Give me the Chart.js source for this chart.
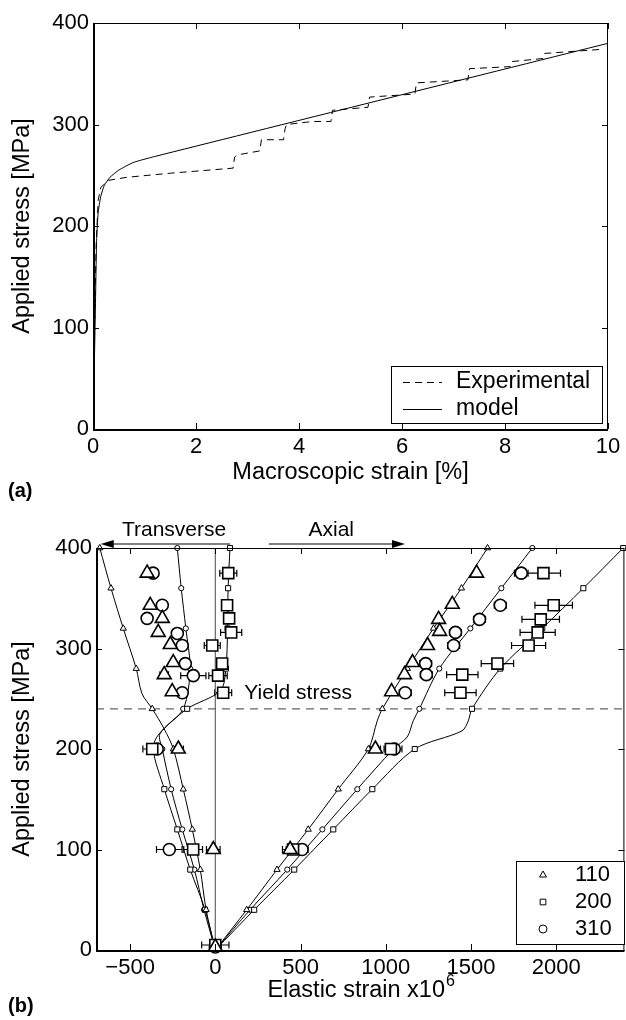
<!DOCTYPE html>
<html>
<head>
<meta charset="utf-8">
<script src="https://cdn.jsdelivr.net/npm/chart.js@4.4.0/dist/chart.umd.min.js"></script>
<style>
html,body{margin:0;background:#fff;overflow:hidden}
body{width:626px;height:1020px;position:relative;font-family:'Liberation Sans',Arial,sans-serif}
#ca{position:absolute;left:0;top:0}
#cb{position:absolute;left:0;top:500px}
.lbl{position:absolute;font-weight:bold;font-size:20px;color:#000}
</style>
</head>
<body>
<canvas id="ca" width="626" height="500"></canvas>
<canvas id="cb" width="634" height="520"></canvas>
<div class="lbl" style="left:8px;top:479px">(a)</div>
<div class="lbl" style="left:8px;top:994px">(b)</div>
<script>
const FONT = "'Liberation Sans', Arial, sans-serif"
const FS = 22      // tick labels
const FT = 23.5    // axis titles
const FN = 21      // notes

// ---- (a) macroscopic stress-strain ----
const expStrain = [0,0.03,0.06,0.1,0.15,0.3,0.66,1.5,2.72,2.75,2.8,3.24,3.27,3.7,3.73,3.76,4.27,4.62,4.65,5.34,5.37,6.25,6.28,7.28,7.31,8.1,8.13,8.74,8.77,9.86]
const expStress = [0,100,180,225,238,245,248,252,257,268,270,274,285,285,296,300,303,303,314,317,327,330,341,344,355,357,362,365,370,374]
const modelStrain = [0,0.04,0.07,0.1,0.15,0.22,0.33,0.5,0.78,1.2,10]
const modelStress = [0,100,185,213,229,240,248,255,262.5,268.5,380]
const xTicksA = [0,2,4,6,8,10]
const yTicks = [0,100,200,300,400]

// ---- (b) lattice strains (x1e-6) vs applied stress ----
const xTicksB = [-500,0,500,1000,1500,2000]
// model, axial
const mAx110s = [0,40,80,120,160,200,228,240,280,320,360,400]
const mAx110e = [0,184,362,545,721,898,950,980,1127,1280,1444,1597]
const mAx200s = [0,40,80,120,160,200,218,228,240,280,320,360,400]
const mAx200e = [0,228,463,692,921,1170,1447,1484,1506,1672,1918,2159,2393]
const mAx310s = [0,40,80,120,160,200,212,228,240,280,320,360,400]
const mAx310e = [0,204,422,628,833,1045,1126,1161,1197,1314,1496,1678,1860]
// model, transverse
const mTr110s = [0,40,80,120,160,200,220,240,255,280,320,360,400]
const mTr110e = [0,-54,-88,-135,-188,-246,-300,-370,-430,-464,-540,-612,-678]
const mTr200s = [0,40,80,120,160,200,215,240,258,280,320,360,400]
const mTr200e = [0,-60,-147,-223,-299,-365,-330,-165,30,62,72,75,86]
const mTr310s = [0,40,80,120,160,200,215,240,280,320,360,400]
const mTr310e = [0,-66,-123,-194,-259,-311,-325,-188,-148,-173,-200,-223]
// experiment
const xAx110s = [375,344,329,317,303,286,274,257,200,100,3]
const xAx110e = [1533,1390,1310,1316,1245,1157,1110,1034,939,439,0]
const xAx110err = [15,15,15,15,15,15,15,15,30,45,0]
const xAx200s = [375,343,329,316,303,285,274,256,200,100,5]
const xAx200e = [1925,1985,1909,1891,1838,1655,1449,1438,1030,456,0]
const xAx200err = [100,110,110,103,100,95,92,92,40,40,80]
const xAx310s = [375,343,329,316,303,285,274,256,200,100,3]
const xAx310e = [1795,1672,1550,1409,1398,1234,1238,1114,1050,509,0]
const xAx310err = [40,35,35,35,35,35,35,35,45,35,0]
const xTr110s = [375,343,330,316,304,286,274,257,200,100]
const xTr110e = [-400,-382,-311,-335,-264,-247,-300,-253,-217,-12]
const xTr110err = [10,10,10,10,10,10,25,10,30,40]
const xTr200s = [375,343,330,316,303,285,273,256,200,100]
const xTr200e = [76,69,81,93,-18,40,16,46,-370,-130]
const xTr200err = [50,25,25,62,47,20,54,50,55,55]
const xTr310s = [375,343,330,315,303,285,273,256,200,100]
const xTr310e = [-365,-311,-400,-223,-194,-176,-129,-194,-341,-270]
const xTr310err = [10,10,10,10,10,15,74,10,20,75]

function pts(xs, ys){ return xs.map((v,i)=>({x:v, y:ys[i]})) }

// inward ticks + box
const frame = {
  id:'frame',
  afterDatasetsDraw(chart){
    const {ctx, chartArea:a, scales:{x,y}} = chart
    ctx.save()
    ctx.strokeStyle = '#000'
    ctx.lineWidth = 1
    ctx.strokeRect(a.left+0.5, a.top+0.5, a.right-a.left-1, a.bottom-a.top)
    ctx.beginPath()
    x.ticks.forEach(t=>{
      const p = Math.round(x.getPixelForValue(t.value))+0.5
      ctx.moveTo(p,a.bottom); ctx.lineTo(p,a.bottom-6)
      ctx.moveTo(p,a.top); ctx.lineTo(p,a.top+6)
    })
    y.ticks.forEach(t=>{
      const p = Math.round(y.getPixelForValue(t.value))+0.5
      ctx.moveTo(a.left,p); ctx.lineTo(a.left+6,p)
      ctx.moveTo(a.right,p); ctx.lineTo(a.right-6,p)
    })
    ctx.stroke()
    ctx.lineWidth = 2
    ctx.beginPath()
    ctx.moveTo(a.left+1, a.top); ctx.lineTo(a.left+1, a.bottom+1); ctx.lineTo(a.right, a.bottom+1)
    ctx.stroke()
    ctx.restore()
  }
}

function baseScales(xmin, xmax, xt, xh, yw, xtitle, ytitle, xfmt){
  return {
    x:{type:'linear', min:xmin, max:xmax,
      afterBuildTicks:s=>{ s.ticks = xt.map(v=>({value:v})) },
      afterFit:s=>{ s.height = xh; s.paddingLeft = 0; s.paddingRight = 0 },
      grid:{display:false, drawTicks:false}, border:{display:false},
      ticks:{color:'#000', font:{family:FONT, size:FS}, padding:5, maxRotation:0, autoSkip:false, callback:xfmt},
      title:{display:!!xtitle, text:xtitle, color:'#000', font:{family:FONT, size:FT}, padding:{top:0,bottom:13}}},
    y:{type:'linear', min:0, max:400,
      afterBuildTicks:s=>{ s.ticks = yTicks.map(v=>({value:v})) },
      afterFit:s=>{ s.width = yw; s.paddingTop = 0; s.paddingBottom = 0 },
      grid:{display:false, drawTicks:false}, border:{display:false},
      ticks:{color:'#000', font:{family:FONT, size:FS}, padding:4},
      title:{display:true, text:ytitle, color:'#000', font:{family:FONT, size:FT}, padding:{top:8,bottom:0}}}
  }
}

// legend of (a)
const legendA = {
  id:'legendA',
  afterDraw(chart){
    const {ctx} = chart
    ctx.save()
    ctx.fillStyle = '#fff'; ctx.strokeStyle = '#000'; ctx.lineWidth = 1
    ctx.fillRect(391,366,211,57)
    ctx.strokeRect(391.5,366.5,211,57)
    const rows = [[chart.data.datasets[0], 382],[chart.data.datasets[1], 409]]
    rows.forEach(([ds, yy])=>{
      ctx.beginPath()
      ctx.setLineDash(ds.borderDash || [])
      ctx.moveTo(403, yy+0.5); ctx.lineTo(442, yy+0.5); ctx.stroke()
      ctx.setLineDash([])
      ctx.fillStyle = '#000'; ctx.font = '23px '+FONT; ctx.textBaseline = 'middle'
      ctx.fillText(ds.label, 456, yy)
    })
    ctx.restore()
  }
}

new Chart(document.getElementById('ca'), {
  type:'scatter',
  data:{datasets:[
    {label:'Experimental', data:pts(expStrain, expStress), showLine:true, borderColor:'#000', borderWidth:1, borderDash:[7,5], pointRadius:0},
    {label:'model', data:pts(modelStrain, modelStress), showLine:true, borderColor:'#000', borderWidth:1, pointRadius:0, tension:0.2}
  ]},
  options:{
    responsive:false, animation:false, devicePixelRatio:1,
    layout:{padding:{left:0, right:18, top:23, bottom:0}},
    plugins:{legend:{display:false}, tooltip:{enabled:false}},
    scales:baseScales(0, 10, xTicksA, 71, 93, 'Macroscopic strain [%]', 'Applied stress [MPa]')
  },
  plugins:[frame, legendA]
})

// ---- (b) ----
function expSet(label, style, r, xs, ys, err){
  return {label, data:pts(ys, xs), err, showLine:false, pointStyle:style, pointRadius:r,
    pointBackgroundColor:'#fff', pointBorderColor:'#000', pointBorderWidth:1.6, clip:false}
}
function modelSet(label, style, r, ss, es){
  return {label, data:pts(es, ss), showLine:true, tension:0.3, borderColor:'#000', borderWidth:1,
    pointStyle:style, pointRadius:c=>(c.raw && c.raw.y % 40 === 0 && c.raw.y > 0) ? r : 0,
    pointBackgroundColor:'#fff', pointBorderColor:'#000', pointBorderWidth:1, clip:false}
}

const errBars = {
  id:'errBars',
  beforeDatasetsDraw(chart){
    const {ctx, scales:{x,y}} = chart
    ctx.save(); ctx.strokeStyle = '#000'; ctx.lineWidth = 1.2
    chart.data.datasets.forEach(ds=>{
      if(!ds.err) return
      ds.data.forEach((p,i)=>{
        const e = ds.err[i]; if(!e) return
        const x0 = x.getPixelForValue(p.x-e), x1 = x.getPixelForValue(p.x+e), py = y.getPixelForValue(p.y)
        ctx.beginPath()
        ctx.moveTo(x0,py); ctx.lineTo(x1,py)
        ctx.moveTo(x0,py-3.5); ctx.lineTo(x0,py+3.5)
        ctx.moveTo(x1,py-3.5); ctx.lineTo(x1,py+3.5)
        ctx.stroke()
      })
    })
    ctx.restore()
  }
}

function arrow(ctx, x0, x1, yy){
  const d = Math.sign(x1-x0)
  ctx.beginPath(); ctx.moveTo(x0,yy); ctx.lineTo(x1-d*12,yy); ctx.stroke()
  ctx.beginPath(); ctx.moveTo(x1,yy); ctx.lineTo(x1-d*13,yy-4); ctx.lineTo(x1-d*13,yy+4); ctx.closePath(); ctx.fill()
}

const notesB = {
  id:'notesB',
  afterDraw(chart){
    const {ctx, chartArea:a, scales:{x,y}} = chart
    ctx.save()
    ctx.fillStyle = '#000'; ctx.strokeStyle = '#000'; ctx.lineWidth = 1.2
    ctx.font = FN+'px '+FONT
    // direction arrows
    const ay = a.top - 4
    arrow(ctx, x.getPixelForValue(86), x.getPixelForValue(-672), ay)
    arrow(ctx, x.getPixelForValue(314), x.getPixelForValue(1113), ay)
    ctx.textAlign = 'center'; ctx.textBaseline = 'alphabetic'
    ctx.fillText('Transverse', x.getPixelForValue(-242), ay - 8)
    ctx.fillText('Axial', x.getPixelForValue(680), ay - 8)
    // yield label
    ctx.textAlign = 'left'
    ctx.fillText('Yield stress', x.getPixelForValue(170), y.getPixelForValue(240) - 10)
    // x title with superscript
    const t = 'Elastic strain x10'
    ctx.font = FT+'px '+FONT
    const w = ctx.measureText(t).width
    const cx = (a.left + a.right)/2 - 4
    ctx.fillText(t, cx - w/2, a.bottom + 47)
    ctx.font = '16px '+FONT
    ctx.fillText('6', cx + w/2 + 1, a.bottom + 36)
    // legend
    ctx.fillStyle = '#fff'; ctx.lineWidth = 1
    ctx.fillRect(516, a.bottom - 89, 108, 83)
    ctx.strokeRect(516.5, a.bottom - 88.5, 108, 83)
    const rows = [[chart.data.datasets[0], '110'],[chart.data.datasets[1], '200'],[chart.data.datasets[2], '310']]
    rows.forEach(([ds, txt], i)=>{
      const yy = a.bottom - 75 + i*27
      ctx.fillStyle = '#fff'; ctx.strokeStyle = '#000'; ctx.lineWidth = 1
      Chart.helpers.drawPoint(ctx, {pointStyle:ds.pointStyle, radius:4, borderWidth:1}, 543, yy)
      ctx.fillStyle = '#000'; ctx.font = '22px '+FONT; ctx.textBaseline = 'middle'; ctx.textAlign = 'left'
      ctx.fillText(txt, 575, yy)
    })
    ctx.restore()
  }
}

new Chart(document.getElementById('cb'), {
  type:'scatter',
  data:{datasets:[
    expSet('110','triangle',8,xAx110s,xAx110e,xAx110err),
    expSet('200','rect',7.8,xAx200s,xAx200e,xAx200err),
    expSet('310','circle',6,xAx310s,xAx310e,xAx310err),
    expSet('110 tr','triangle',8,xTr110s,xTr110e,xTr110err),
    expSet('200 tr','rect',7.8,xTr200s,xTr200e,xTr200err),
    expSet('310 tr','circle',6,xTr310s,xTr310e,xTr310err),
    modelSet('m110','triangle',3.6,mAx110s,mAx110e),
    modelSet('m200','rect',3.6,mAx200s,mAx200e),
    modelSet('m310','circle',2.6,mAx310s,mAx310e),
    modelSet('m110t','triangle',3.6,mTr110s,mTr110e),
    modelSet('m200t','rect',3.6,mTr200s,mTr200e),
    modelSet('m310t','circle',2.6,mTr310s,mTr310e),
    {label:'zero', data:[{x:0,y:0},{x:0,y:400}], showLine:true, borderColor:'#666', borderWidth:1.2, pointRadius:0},
    {label:'yield', data:[{x:-700,y:240},{x:2400,y:240}], showLine:true, borderColor:'#666', borderWidth:1.2, borderDash:[8,6], pointRadius:0}
  ]},
  options:{
    responsive:false, animation:false, devicePixelRatio:1,
    layout:{padding:{left:0, right:2, top:48, bottom:0}},
    plugins:{legend:{display:false}, tooltip:{enabled:false}},
    scales:baseScales(-700, 2400, xTicksB, 70, 96, '', 'Applied stress [MPa]', v=>String(v).replace('-','\u2212'))
  },
  plugins:[errBars, frame, notesB]
})
</script>
</body>
</html>
